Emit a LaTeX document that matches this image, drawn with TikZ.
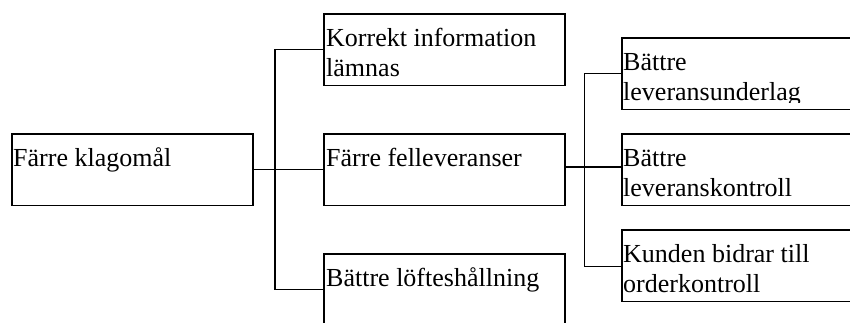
\documentclass[tikz,border=0pt]{standalone}
\usepackage{fontspec}
\setmainfont{Liberation Serif}
\begin{document}
\begin{tikzpicture}[x=1pt,y=-1pt,
  box/.style={draw=black, line width=1.5pt, rectangle, inner sep=0pt,
    minimum width=241pt, minimum height=71.5pt, anchor=north west},
  txt/.style={anchor=north west, inner sep=0pt, align=left,
    font=\fontsize{26}{30}\selectfont},
  link/.style={draw=black, line width=1.5pt}]
\useasboundingbox (0,0) rectangle (850,322);
\clip (0,0) rectangle (850,322);

% boxes
\node[box] (root) at (11,133) {};
\node[box] (info) at (323,13) {};
\node[box] (mid)  at (323,133) {};
\node[box] (prom) at (323,253) {};
\node[box] (r1)   at (621,37) {};
\node[box] (r2)   at (621,133) {};
\node[box] (r3)   at (621,229) {};

% texts, first baseline about 33.5 below each box top
\newcommand{\fs}{\rule{0pt}{24pt}}
\node[txt] (troot) at ([shift={(2,9.5)}]root.north west) {\fs Färre klagomål};
\node[txt] (tinfo) at ([shift={(3,9.5)}]info.north west) {\fs Korrekt information\\lämnas};
\node[txt] (tmid)  at ([shift={(3,9.5)}]mid.north west) {\fs Färre felleveranser};
\node[txt] (tprom) at ([shift={(3,9.5)}]prom.north west) {\fs Bättre löfteshållning};
\begin{scope}
  \clip (r1.north west) rectangle ([yshift=7.5pt]r1.south east);
  \node[txt] (tr1) at ([shift={(2,9.5)}]r1.north west) {\fs Bättre\\leveransunderlag};
\end{scope}
\node[txt] (tr2) at ([shift={(2,9.5)}]r2.north west) {\fs Bättre\\leveranskontroll};
\node[txt] (tr3) at ([shift={(2,9.5)}]r3.north west) {\fs Kunden bidrar till\\orderkontroll};

% junctions of the brackets
\coordinate (jl) at (275,169);
\coordinate (jr) at (584.5,166);

% connectors
\draw[link] (root.east) -- (mid.west);
\draw[link] (info.west) -| (jl) |- (prom.west);
\draw[link] ([yshift=2.5pt]mid.east) -- ([yshift=2.5pt]r2.west);
\draw[link] (r1.west) -| (jr) |- ([yshift=-1pt]r3.west);
\end{tikzpicture}
\end{document}
